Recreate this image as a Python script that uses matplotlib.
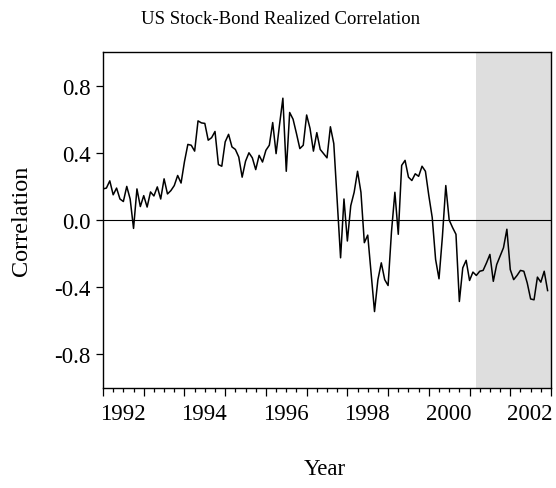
import numpy as np
import matplotlib.pyplot as plt
import matplotlib.transforms as mtransforms
from matplotlib.ticker import MultipleLocator

# monthly realized correlation, Jan 1991 - Dec 2001
corr = [
    0.185, 0.19, 0.233, 0.15, 0.19, 0.125, 0.11, 0.20, 0.125, -0.05, 0.185, 0.08,
    0.145, 0.077, 0.167, 0.143, 0.197, 0.125, 0.245, 0.155, 0.175, 0.205, 0.265, 0.22,
    0.347, 0.45, 0.445, 0.41, 0.59, 0.578, 0.575, 0.475, 0.49, 0.527, 0.33, 0.32,
    0.465, 0.51, 0.435, 0.42, 0.375, 0.255, 0.35, 0.40, 0.37, 0.30, 0.385, 0.345,
    0.415, 0.445, 0.58, 0.395, 0.565, 0.725, 0.29, 0.64, 0.60, 0.515, 0.425, 0.445,
    0.625, 0.545, 0.41, 0.52, 0.42, 0.395, 0.37, 0.555, 0.455, 0.12, -0.225, 0.125,
    -0.125, 0.085, 0.165, 0.29, 0.165, -0.135, -0.09, -0.315, -0.545, -0.355, -0.255, -0.355,
    -0.39, -0.07, 0.165, -0.085, 0.325, 0.355, 0.255, 0.235, 0.275, 0.26, 0.32, 0.29,
    0.145, 0.015, -0.235, -0.35, -0.10, 0.205, 0.0, -0.045, -0.085, -0.485, -0.285, -0.24,
    -0.36, -0.31, -0.33, -0.305, -0.30, -0.255, -0.205, -0.365, -0.265, -0.215, -0.165, -0.055,
    -0.295, -0.355, -0.33, -0.30, -0.305, -0.375, -0.47, -0.475, -0.34, -0.37, -0.305, -0.42,
]
start_year = 1991
shade_start = 2000 + 2 / 12
shade_end = 2002
year_labels = ["1992", "1994", "1996", "1998", "2000", "2002"]
y_ticks = [-0.8, -0.4, 0.0, 0.4, 0.8]

t = start_year + np.arange(len(corr)) / 12.0

plt.rcParams['font.family'] = ['Liberation Serif', 'DejaVu Serif']

fig = plt.figure(figsize=(5.56, 4.89), dpi=100)
ax = fig.add_axes([103 / 556, 1 - 389 / 489, 448 / 556, 336 / 489])

ax.axvspan(shade_start, shade_end, color='#dedede', lw=0, zorder=0)
ax.axhline(0, color='black', lw=0.8, zorder=1)
ax.plot(t, corr, color='black', lw=1.1, zorder=2)

ax.set_xlim(1991, 2002)
ax.set_ylim(-1.0, 1.0)

ax.set_yticks(y_ticks)
ax.set_yticklabels([f"{v:.1f}" for v in y_ticks])

years = np.arange(1991, 2003)
ax.set_xticks(years)
ax.set_xticklabels([str(y) if str(y) in year_labels else "" for y in years])
ax.xaxis.set_minor_locator(MultipleLocator(0.25))

ax.tick_params(axis='both', which='major', direction='out', labelsize=16.5,
               width=0.9, color='black')
ax.tick_params(axis='x', which='major', length=6, pad=5)
ax.tick_params(axis='x', which='minor', direction='out', length=3, width=0.9)
ax.tick_params(axis='y', which='major', length=5, pad=4)

offset = mtransforms.ScaledTranslation(2 / 100, 0, fig.dpi_scale_trans)
for lbl in ax.get_xticklabels():
    lbl.set_horizontalalignment('right')
    lbl.set_transform(lbl.get_transform() + offset)

for s in ax.spines.values():
    s.set_linewidth(1.0)

fig.text(0.504, 1 - 20 / 489, "US Stock-Bond Realized Correlation",
         ha='center', va='center', fontsize=13.5)
fig.text(325 / 556, 1 - 470 / 489, "Year", ha='center', va='center', fontsize=16.5)
fig.text(22 / 556, 1 - 221 / 489, "Correlation", ha='center', va='center',
         rotation=90, fontsize=17.5)

fig.savefig("out.png", dpi=100)
